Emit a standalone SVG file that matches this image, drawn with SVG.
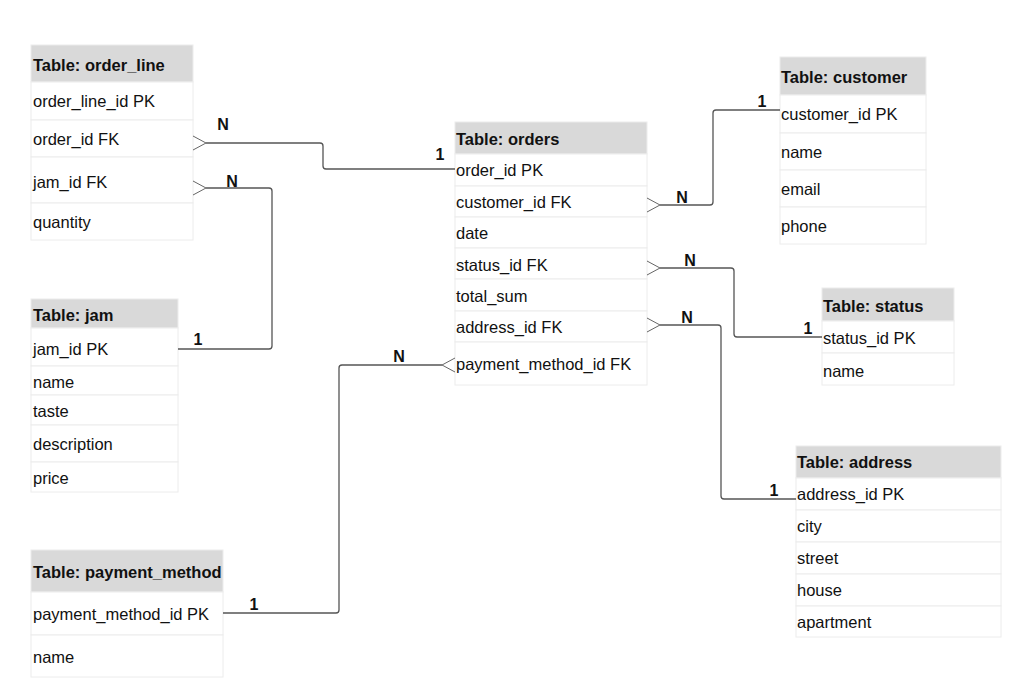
<svg xmlns="http://www.w3.org/2000/svg" width="1024" height="695" viewBox="0 0 1024 695">
<style>
.hd{fill:#d9d9d9;stroke:#ececec;stroke-width:1}
.rw{fill:#ffffff;stroke:#ececec;stroke-width:1}
.ht{font-family:"Liberation Sans",Arial,sans-serif;font-size:16.5px;font-weight:bold;fill:#111}
.t{font-family:"Liberation Sans",Arial,sans-serif;font-size:16.5px;fill:#111}
.lb{font-family:"Liberation Sans",Arial,sans-serif;font-size:16px;font-weight:bold;fill:#111;text-anchor:middle}
.ln{fill:none;stroke:#555;stroke-width:1.3}
.cf{fill:none;stroke:#666;stroke-width:1}
</style>
<rect width="1024" height="695" fill="#ffffff"/>

<g id="order_line">
<rect class="hd" x="31" y="45" width="162" height="37"/>
<rect class="rw" x="31" y="82" width="162" height="38"/>
<rect class="rw" x="31" y="120" width="162" height="37"/>
<rect class="rw" x="31" y="157" width="162" height="46"/>
<rect class="rw" x="31" y="203" width="162" height="37"/>
<text class="ht" x="33" y="71">Table: order_line</text>
<text class="t" x="33" y="107">order_line_id PK</text>
<text class="t" x="33" y="145">order_id FK</text>
<text class="t" x="33" y="188">jam_id FK</text>
<text class="t" x="33" y="228">quantity</text>
</g>

<g id="jam">
<rect class="hd" x="31" y="299" width="147" height="29"/>
<rect class="rw" x="31" y="328" width="147" height="38"/>
<rect class="rw" x="31" y="366" width="147" height="29"/>
<rect class="rw" x="31" y="395" width="147" height="30"/>
<rect class="rw" x="31" y="425" width="147" height="37"/>
<rect class="rw" x="31" y="462" width="147" height="30"/>
<text class="ht" x="33" y="321">Table: jam</text>
<text class="t" x="33" y="355">jam_id PK</text>
<text class="t" x="33" y="388">name</text>
<text class="t" x="33" y="417">taste</text>
<text class="t" x="33" y="450">description</text>
<text class="t" x="33" y="484">price</text>
</g>

<g id="payment_method">
<rect class="hd" x="31" y="550" width="192" height="42"/>
<rect class="rw" x="31" y="592" width="192" height="43"/>
<rect class="rw" x="31" y="635" width="192" height="42"/>
<text class="ht" x="33" y="578">Table: payment_method</text>
<text class="t" x="33" y="620">payment_method_id PK</text>
<text class="t" x="33" y="663">name</text>
</g>

<g id="orders">
<rect class="hd" x="455" y="122" width="192" height="32"/>
<rect class="rw" x="455" y="154" width="192" height="32"/>
<rect class="rw" x="455" y="186" width="192" height="31"/>
<rect class="rw" x="455" y="217" width="192" height="31"/>
<rect class="rw" x="455" y="248" width="192" height="31"/>
<rect class="rw" x="455" y="279" width="192" height="32"/>
<rect class="rw" x="455" y="311" width="192" height="31"/>
<rect class="rw" x="455" y="342" width="192" height="43"/>
<text class="ht" x="456" y="145">Table: orders</text>
<text class="t" x="456" y="176">order_id PK</text>
<text class="t" x="456" y="208">customer_id FK</text>
<text class="t" x="456" y="239">date</text>
<text class="t" x="456" y="271">status_id FK</text>
<text class="t" x="456" y="302">total_sum</text>
<text class="t" x="456" y="333">address_id FK</text>
<text class="t" x="456" y="370">payment_method_id FK</text>
</g>

<g id="customer">
<rect class="hd" x="780" y="57" width="146" height="38"/>
<rect class="rw" x="780" y="95" width="146" height="38"/>
<rect class="rw" x="780" y="133" width="146" height="37"/>
<rect class="rw" x="780" y="170" width="146" height="37"/>
<rect class="rw" x="780" y="207" width="146" height="37"/>
<text class="ht" x="781" y="83">Table: customer</text>
<text class="t" x="781" y="120">customer_id PK</text>
<text class="t" x="781" y="158">name</text>
<text class="t" x="781" y="195">email</text>
<text class="t" x="781" y="232">phone</text>
</g>

<g id="status">
<rect class="hd" x="822" y="288" width="132" height="33"/>
<rect class="rw" x="822" y="321" width="132" height="32"/>
<rect class="rw" x="822" y="353" width="132" height="32"/>
<text class="ht" x="823" y="312">Table: status</text>
<text class="t" x="823" y="344">status_id PK</text>
<text class="t" x="823" y="377">name</text>
</g>

<g id="address">
<rect class="hd" x="796" y="446" width="205" height="32"/>
<rect class="rw" x="796" y="478" width="205" height="32"/>
<rect class="rw" x="796" y="510" width="205" height="32"/>
<rect class="rw" x="796" y="542" width="205" height="32"/>
<rect class="rw" x="796" y="574" width="205" height="32"/>
<rect class="rw" x="796" y="606" width="205" height="31"/>
<text class="ht" x="797" y="468">Table: address</text>
<text class="t" x="797" y="500">address_id PK</text>
<text class="t" x="797" y="532">city</text>
<text class="t" x="797" y="564">street</text>
<text class="t" x="797" y="596">house</text>
<text class="t" x="797" y="628">apartment</text>
</g>

<g id="connectors">
<path class="cf" d="M193,136 L206,143 L193,150"/>
<path class="ln" d="M206,143 H320 Q323,143 323,146 V166 Q323,169 326,169 H455"/>
<path class="cf" d="M193,181 L206,188 L193,195"/>
<path class="ln" d="M206,188 H269 Q272,188 272,191 V346 Q272,349 269,349 H178"/>
<path class="cf" d="M647,198 L660,205 L647,212"/>
<path class="ln" d="M660,205 H710 Q713,205 713,202 V113 Q713,110 716,110 H780"/>
<path class="cf" d="M647,261 L660,268 L647,275"/>
<path class="ln" d="M660,268 H731 Q734,268 734,271 V334 Q734,337 737,337 H822"/>
<path class="cf" d="M647,318 L660,325 L647,332"/>
<path class="ln" d="M660,325 H718 Q721,325 721,328 V496 Q721,499 724,499 H796"/>
<path class="cf" d="M455,358 L442,365 L455,372"/>
<path class="ln" d="M223,613 H336 Q339,613 339,610 V368 Q339,365 342,365 H442"/>
<text class="lb" x="223" y="130">N</text>
<text class="lb" x="440" y="160">1</text>
<text class="lb" x="232" y="187">N</text>
<text class="lb" x="198" y="345">1</text>
<text class="lb" x="682" y="203">N</text>
<text class="lb" x="762" y="107">1</text>
<text class="lb" x="690" y="266">N</text>
<text class="lb" x="808" y="334">1</text>
<text class="lb" x="687" y="323">N</text>
<text class="lb" x="774" y="496">1</text>
<text class="lb" x="399" y="362">N</text>
<text class="lb" x="254" y="610">1</text>
</g>
</svg>
